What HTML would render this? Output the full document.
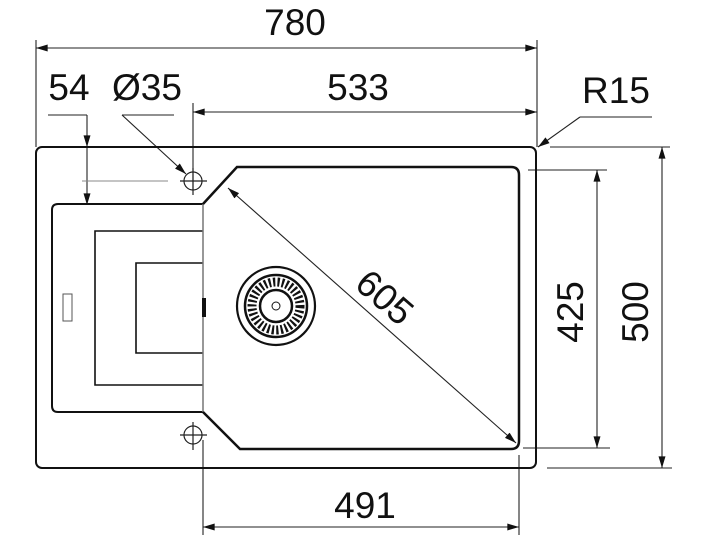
<!DOCTYPE html>
<html><head><style>body{margin:0;background:#fff}svg{display:block}text{font-family:"Liberation Sans",Arial,sans-serif;fill:#111}</style></head><body>
<svg width="707" height="540" viewBox="0 0 707 540" xmlns="http://www.w3.org/2000/svg">
<defs><marker id="a" viewBox="0 0 10 6" refX="10" refY="3" markerWidth="16" markerHeight="7" markerUnits="userSpaceOnUse" orient="auto-start-reverse"><path d="M0,0L10,3L0,6z" fill="#111"/></marker></defs>
<g stroke="#222" stroke-width="1.1" fill="none">
<line x1="36" y1="40" x2="36" y2="147"/><line x1="537" y1="40" x2="537" y2="147"/>
<line x1="36" y1="48" x2="537" y2="48" marker-start="url(#a)" marker-end="url(#a)"/>
<line x1="193" y1="103" x2="193" y2="190"/>
<line x1="193" y1="112" x2="537" y2="112" marker-start="url(#a)" marker-end="url(#a)"/>
<line x1="48" y1="115" x2="87" y2="115"/>
<line x1="87" y1="115" x2="87" y2="147" marker-end="url(#a)"/>
<line x1="87" y1="147" x2="87" y2="205" marker-end="url(#a)"/>
<line x1="82" y1="181" x2="168" y2="181" stroke="#888"/>
<line x1="122" y1="115" x2="174" y2="115"/>
<line x1="122" y1="115" x2="186" y2="174" marker-end="url(#a)"/>
<line x1="580" y1="117" x2="652" y2="117"/>
<line x1="580" y1="117" x2="538" y2="147" marker-end="url(#a)"/>
<line x1="528" y1="170" x2="607" y2="170"/><line x1="523" y1="448" x2="610" y2="448"/>
<line x1="597" y1="170" x2="597" y2="448" marker-start="url(#a)" marker-end="url(#a)"/>
<line x1="550" y1="147" x2="670" y2="147"/><line x1="547" y1="468" x2="672" y2="468"/>
<line x1="662" y1="147" x2="662" y2="468" marker-start="url(#a)" marker-end="url(#a)"/>
<line x1="203" y1="440" x2="203" y2="535"/><line x1="519" y1="455" x2="519" y2="535"/>
<line x1="203" y1="527" x2="519" y2="527" marker-start="url(#a)" marker-end="url(#a)"/>
<line x1="228" y1="188" x2="516" y2="443" marker-start="url(#a)" marker-end="url(#a)"/>
</g>
<g fill="none" stroke="#111" stroke-width="2">
<rect x="36" y="147" width="500" height="321" rx="6"/>
<path d="M203,204 H58 Q52,204 52,210 V406 Q52,412 58,412 H203"/>
<path d="M203,231 H95 V385 H203" stroke-width="1.6"/>
<path d="M203,263 H136 V353 H203" stroke-width="1.6"/>
<rect x="63" y="294" width="9" height="27" stroke-width="1" stroke="#555"/>
<line x1="203" y1="204" x2="203" y2="412" stroke="#777" stroke-width="1.5"/>
<path d="M203,204 L237,167 H511 Q519,167 519,175 V441 Q519,449 511,449 H240 L203,412" stroke-width="2.5"/>
<rect x="202" y="298" width="4" height="19" fill="#111" stroke="none"/>
</g>
<g fill="none" stroke="#222" stroke-width="1.2">
<circle cx="193" cy="181" r="9"/><line x1="180" y1="181" x2="207" y2="181"/><line x1="193" y1="168" x2="193" y2="195"/>
<circle cx="193" cy="435" r="9"/><line x1="180" y1="435" x2="207" y2="435"/><line x1="193" y1="422" x2="193" y2="450"/>
</g>
<g fill="none" stroke="#111">
<circle cx="276" cy="306" r="39" stroke-width="2.2"/>
<circle cx="276" cy="306" r="31" stroke-width="2.5"/>
<circle cx="276" cy="306" r="24" stroke-width="9" stroke-dasharray="2.2 2.2"/>
<circle cx="276" cy="306" r="16" stroke-width="2.5"/>
<circle cx="276" cy="306" r="4" stroke-width="1"/>
</g>
<g font-size="37" text-anchor="middle">
<text x="295" y="35">780</text>
<text x="358" y="100">533</text>
<text x="69" y="100">54</text>
<text x="147" y="100">Ø35</text>
<text x="616" y="103">R15</text>
<text x="365" y="518">491</text>
<text transform="translate(385,297) rotate(41)" y="13">605</text>
<text transform="translate(570,312) rotate(-90)" y="13">425</text>
<text transform="translate(635,312) rotate(-90)" y="13">500</text>
</g>
</svg>
</body></html>
